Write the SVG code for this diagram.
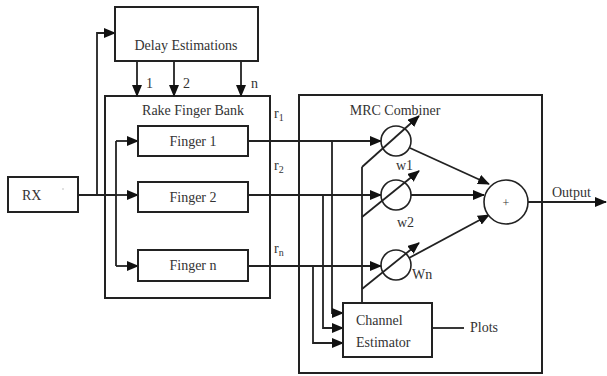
<svg xmlns="http://www.w3.org/2000/svg" width="607" height="376" viewBox="0 0 607 376">
  <style>
    .box { fill: #fff; stroke: #222; stroke-width: 2; }
    .ln { fill: none; stroke: #222; stroke-width: 1.8; }
    .arr { fill: none; stroke: #222; stroke-width: 1.8; marker-end: url(#ah); }
    .t { font-family: "Liberation Serif", "Times New Roman", serif; font-size: 14px; fill: #333; }
    .c { text-anchor: middle; }
    .s { font-size: 10px; }
  </style>
  <defs>
    <marker id="ah" markerUnits="userSpaceOnUse" markerWidth="12" markerHeight="10" refX="11" refY="5" orient="auto">
      <path d="M0,0 L12,5 L0,10 Z" fill="#111"/>
    </marker>
  </defs>
  <rect width="607" height="376" fill="#fff"/>

  <!-- outer container boxes -->
  <g id="rake-bank">
    <rect class="box" x="105" y="96" width="165" height="202"/>
    <text class="t c" x="193" y="115">Rake Finger Bank</text>
  </g>
  <g id="mrc-combiner">
    <rect class="box" x="299" y="95" width="243" height="278"/>
    <text class="t c" x="395" y="115">MRC Combiner</text>
  </g>

  <!-- connectors -->
  <g id="connectors">
    <!-- RX feed and loop up to delay estimation -->
    <polyline class="ln" points="78,195 116,195"/>
    <polyline class="arr" points="97,195 97,33 115,33"/>
    <!-- delay outputs into finger bank -->
    <line class="arr" x1="137" y1="61" x2="137" y2="96"/>
    <line class="arr" x1="174" y1="61" x2="174" y2="96"/>
    <line class="arr" x1="241" y1="61" x2="241" y2="96"/>
    <!-- finger distribution -->
    <polyline class="ln" points="116,141 116,266"/>
    <line class="arr" x1="116" y1="141" x2="138" y2="141"/>
    <line class="arr" x1="116" y1="195" x2="138" y2="195"/>
    <line class="arr" x1="116" y1="266" x2="138" y2="266"/>
    <!-- finger outputs to weights -->
    <line class="arr" x1="248" y1="141" x2="381" y2="141"/>
    <line class="arr" x1="248" y1="195" x2="381" y2="195"/>
    <line class="arr" x1="248" y1="266" x2="381" y2="266"/>
    <!-- taps to channel estimator -->
    <polyline class="arr" points="332,141 332,313 343,313"/>
    <polyline class="arr" points="323,195 323,328 343,328"/>
    <polyline class="arr" points="313,266 313,343 343,343"/>
    <!-- weight control lines -->
    <polyline class="ln" points="362,303 362,167"/>
    <line class="arr" x1="362" y1="167" x2="419" y2="116"/>
    <line class="arr" x1="362" y1="217" x2="419" y2="171"/>
    <line class="arr" x1="362" y1="289" x2="419" y2="243"/>
    <!-- weighted branches into summer -->
    <line class="arr" x1="410" y1="148" x2="489" y2="184"/>
    <line class="arr" x1="411" y1="195" x2="484" y2="195"/>
    <line class="arr" x1="409" y1="258" x2="489" y2="215"/>
    <!-- output and plots -->
    <line class="arr" x1="528" y1="202" x2="606" y2="202"/>
    <line class="ln" x1="432" y1="328" x2="464" y2="328"/>
  </g>

  <g id="delay-estimations">
    <rect class="box" x="115" y="7" width="143" height="54"/>
    <text class="t c" x="186" y="50">Delay Estimations</text>
  </g>
  <g id="delay-labels">
    <text class="t" x="146" y="88">1</text>
    <text class="t" x="183" y="88">2</text>
    <text class="t" x="251" y="88">n</text>
  </g>

  <g id="rx">
    <rect class="box" x="8" y="177" width="70" height="35"/>
    <text class="t" x="22" y="200">RX</text>
    <circle cx="63" cy="189" r="0.8" fill="#bbb"/>
  </g>

  <g id="finger-1">
    <rect class="box" x="138" y="126" width="110" height="30"/>
    <text class="t c" x="193" y="146">Finger 1</text>
  </g>
  <g id="finger-2">
    <rect class="box" x="138" y="182" width="110" height="30"/>
    <text class="t c" x="193" y="202">Finger 2</text>
  </g>
  <g id="finger-n">
    <rect class="box" x="138" y="250" width="110" height="31"/>
    <text class="t c" x="193" y="270">Finger n</text>
  </g>

  <g id="path-labels">
    <text class="t" x="274" y="118">r<tspan class="s" dy="3">1</tspan></text>
    <text class="t" x="274" y="170">r<tspan class="s" dy="3">2</tspan></text>
    <text class="t" x="274" y="253">r<tspan class="s" dy="3">n</tspan></text>
  </g>

  <g id="weight-1">
    <circle cx="396" cy="141" r="15" fill="none" stroke="#222" stroke-width="1.6"/>
    <text class="t" x="396" y="170">w1</text>
  </g>
  <g id="weight-2">
    <circle cx="396" cy="195" r="15" fill="none" stroke="#222" stroke-width="1.6"/>
    <text class="t" x="397" y="227">w2</text>
  </g>
  <g id="weight-n">
    <circle cx="396" cy="265" r="15" fill="none" stroke="#222" stroke-width="1.6"/>
    <text class="t" x="412" y="279">Wn</text>
  </g>

  <g id="summer">
    <circle cx="506" cy="202" r="22" fill="#fff" stroke="#222" stroke-width="1.6"/>
    <text class="t c" x="506" y="207" style="font-size:12px">+</text>
  </g>
  <text class="t" x="552" y="197">Output</text>

  <g id="channel-estimator">
    <rect class="box" x="343" y="303" width="89" height="54"/>
    <text class="t" x="356" y="325">Channel</text>
    <text class="t" x="356" y="347">Estimator</text>
  </g>
  <text class="t" x="470" y="332">Plots</text>
</svg>
